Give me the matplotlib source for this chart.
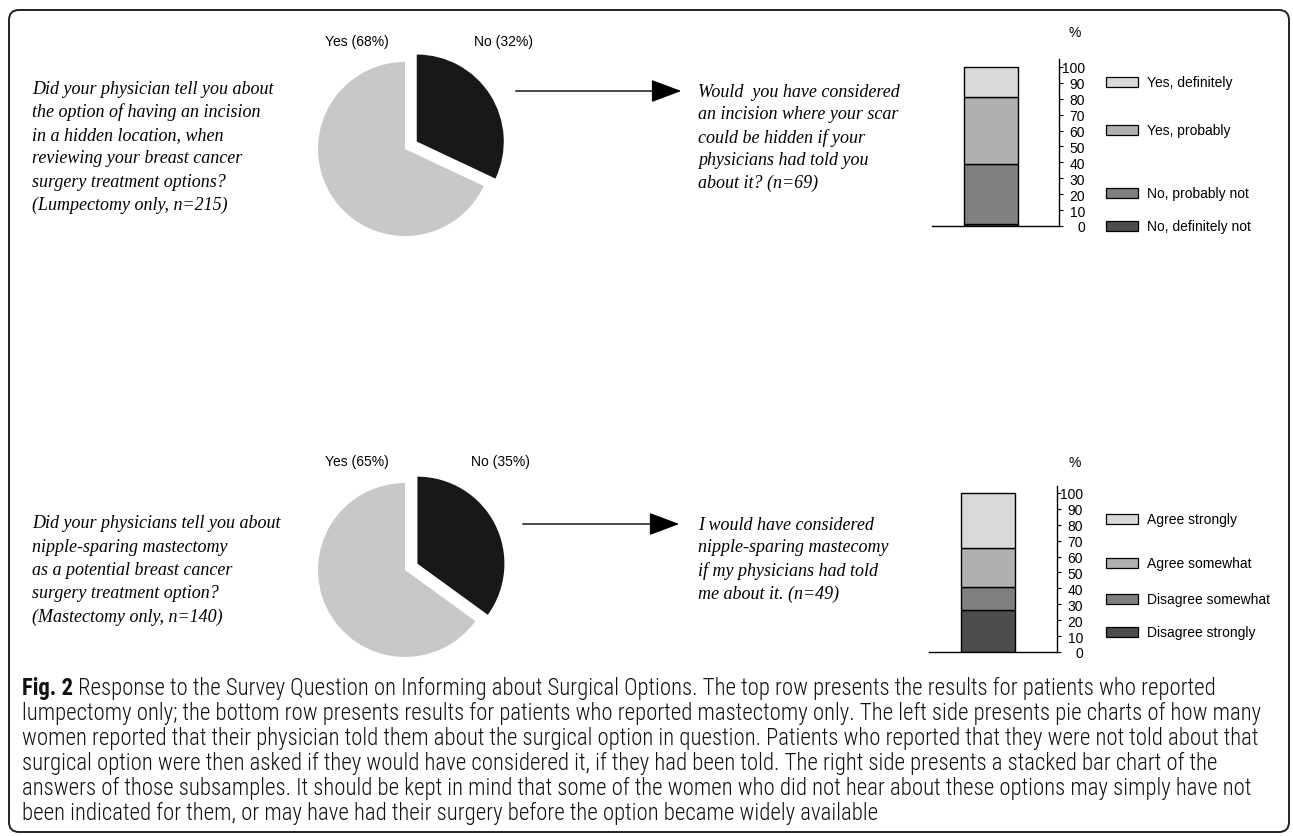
import matplotlib
matplotlib.use("Agg")
import matplotlib.pyplot as plt
from matplotlib.patches import Rectangle, FancyBboxPatch, FancyArrowPatch
from matplotlib import font_manager as fm

# ---------------- data ----------------
pie_labels = ["No", "Yes"]
pie1_values = [32, 68]
pie2_values = [35, 65]

bar1_categories = ["No, definitely not", "No, probably not", "Yes, probably", "Yes, definitely"]
bar1_values = [1.4, 37.7, 42.0, 18.8]
bar2_categories = ["Disagree strongly", "Disagree somewhat", "Agree somewhat", "Agree strongly"]
bar2_values = [26.5, 14.3, 24.5, 34.7]
bar_colors = ["#4d4d4d", "#808080", "#b0b0b0", "#d9d9d9"]
yticks = list(range(0, 101, 10))

q1_left = ["Did your physician tell you about",
           "the option of having an incision",
           "in a hidden location, when",
           "reviewing your breast cancer",
           "surgery treatment options?",
           "(Lumpectomy only, n=215)"]
q1_right = ["Would  you have considered",
            "an incision where your scar",
            "could be hidden if your",
            "physicians had told you",
            "about it? (n=69)"]
q2_left = ["Did your physicians tell you about",
           "nipple-sparing mastectomy",
           "as a potential breast cancer",
           "surgery treatment option?",
           "(Mastectomy only, n=140)"]
q2_right = ["I would have considered",
            "nipple-sparing mastecomy",
            "if my physicians had told",
            "me about it. (n=49)"]

caption_bold = "Fig. 2"
caption_lines = [
    " Response to the Survey Question on Informing about Surgical Options. The top row presents the results for patients who reported",
    "lumpectomy only; the bottom row presents results for patients who reported mastectomy only. The left side presents pie charts of how many",
    "women reported that their physician told them about the surgical option in question. Patients who reported that they were not told about that",
    "surgical option were then asked if they would have considered it, if they had been told. The right side presents a stacked bar chart of the",
    "answers of those subsamples. It should be kept in mind that some of the women who did not hear about these options may simply have not",
    "been indicated for them, or may have had their surgery before the option became widely available",
]

# ---------------- layout ----------------
W, H = 1293, 837
fig = plt.figure(figsize=(W / 100, H / 100), dpi=100)
fig.patch.set_facecolor("white")

SANS = "Liberation Sans"
SERIF = "Liberation Serif"
fonts = fm.fontManager.ttflist
names = {f.name for f in fonts}
CAP = "DejaVu Sans"
CAP_STRETCH = "condensed"
for cand in ["Liberation Sans Narrow", "Roboto Condensed", "Open Sans Condensed",
             "Noto Sans Condensed"]:
    if cand in names:
        CAP = cand
        CAP_STRETCH = "normal"
        break
cap_weights = sorted({f.weight for f in fonts if f.name == CAP and f.style == "normal"
                      and isinstance(f.weight, int)})
CAP_WEIGHT = 300 if 300 in cap_weights else "normal"

# background axes in pixel coordinates
bg = fig.add_axes([0, 0, 1, 1])
bg.set_xlim(0, W)
bg.set_ylim(H, 0)
bg.axis("off")
bg.set_zorder(0)

border = FancyBboxPatch((9, 11), 1280, 822, boxstyle="round,pad=0,rounding_size=10",
                        fc="none", ec="#222222", lw=1.4)
bg.add_patch(border)


def fx(x):
    return x / W


def fy(y):
    return 1 - y / H


def draw_pie(values, cx, cy, r):
    size = 2.6 * r
    ax = fig.add_axes([fx(cx - size / 2), fy(cy + size / 2), size / W, size / H])
    ax.pie(values, colors=["#181818", "#c8c9c7"], startangle=90, counterclock=False,
           explode=[0.16, 0], radius=1, wedgeprops=dict(linewidth=0))
    ax.set_xlim(-1.3, 1.3)
    ax.set_ylim(-1.3, 1.3)
    ax.set_aspect("equal")
    ax.axis("off")
    return ax


def draw_bar(values, left, right, base, top_px, ymax):
    ax = fig.add_axes([fx(left), fy(base), (right - left) / W, (base - top_px) / H])
    bottom = 0
    for v, c in zip(values, bar_colors):
        ax.bar(59, v, width=54, bottom=bottom, color=c, edgecolor="black", linewidth=1.0)
        bottom += v
    ax.set_xlim(0, right - left)
    ax.set_ylim(0, ymax)
    for s in ["top", "left"]:
        ax.spines[s].set_visible(False)
    ax.spines["right"].set_linewidth(1.0)
    ax.spines["bottom"].set_linewidth(1.0)
    ax.set_xticks([])
    ax.yaxis.tick_right()
    ax.set_yticks(yticks)
    ax.tick_params(axis="y", direction="out", length=3, width=0.8, pad=15.7,
                   labelsize=10)
    for lbl in ax.get_yticklabels():
        lbl.set_ha("right")
        lbl.set_fontfamily(SANS)
    ax.patch.set_alpha(0)
    return ax


# pies
draw_pie(pie1_values, 405, 150, 87)
draw_pie(pie2_values, 405, 571, 87)
bg.text(357, 42, f"Yes ({pie1_values[1]}%)", ha="center", va="center", fontsize=10, family=SANS)
bg.text(503, 42, f"No ({pie1_values[0]}%)", ha="center", va="center", fontsize=10, family=SANS)
bg.text(357, 462, f"Yes ({pie2_values[1]}%)", ha="center", va="center", fontsize=10, family=SANS)
bg.text(500, 462, f"No ({pie2_values[0]}%)", ha="center", va="center", fontsize=10, family=SANS)

# bars
draw_bar(bar1_values, 932, 1059, 227, 60, 105)
draw_bar(bar2_values, 929, 1057, 653, 487, 104.4)
bg.text(1075, 33, "%", ha="center", va="center", fontsize=10, family=SANS)
bg.text(1075, 463, "%", ha="center", va="center", fontsize=10, family=SANS)

legend1_y = [227, 194, 131, 83]
legend2_y = [633, 600, 564, 520]
for cats, ys in [(bar1_categories, legend1_y), (bar2_categories, legend2_y)]:
    for cat, y, c in zip(cats, ys, bar_colors):
        bg.add_patch(Rectangle((1106, y - 5), 32, 10, fc=c, ec="black", lw=0.9))
        bg.text(1147, y, cat, ha="left", va="center", fontsize=10, family=SANS)

# question texts
def draw_lines(lines, x, y0, dy):
    for i, s in enumerate(lines):
        bg.text(x, y0 + i * dy, s, ha="left", va="center", fontsize=13,
                family=SERIF, style="italic")

draw_lines(q1_left, 32, 89, 23.3)
draw_lines(q1_right, 698, 92, 22.8)
draw_lines(q2_left, 32, 524, 23.3)
draw_lines(q2_right, 698, 525, 23.0)

# arrows
for (x0, x1, y) in [(513, 684, 92), (520, 682, 525)]:
    bg.add_patch(FancyArrowPatch((x0, y), (x1, y),
                                 arrowstyle="-|>,head_length=1.2,head_width=0.45",
                                 mutation_scale=16, color="black", lw=1.0))

# caption
renderer = fig.canvas.get_renderer()
probe = bg.text(0, 0, caption_lines[2], fontsize=10, family=CAP,
                fontstretch=CAP_STRETCH, weight=CAP_WEIGHT)
wpx = probe.get_window_extent(renderer).width
probe.remove()
cap_size = 10 * 1251 / wpx * 0.99

ys = [688, 713, 738, 763, 788, 813]
tb = bg.text(22, ys[0], caption_bold, ha="left", va="center", fontsize=cap_size,
             family=CAP, fontstretch=CAP_STRETCH, weight="bold", color="#111111")
bw = tb.get_window_extent(renderer).width
for i, (s, y) in enumerate(zip(caption_lines, ys)):
    x = 22 + bw if i == 0 else 22
    bg.text(x, y, s, ha="left", va="center", fontsize=cap_size,
            family=CAP, fontstretch=CAP_STRETCH, weight=CAP_WEIGHT, color="#111111")

fig.savefig("out.png", dpi=100)
